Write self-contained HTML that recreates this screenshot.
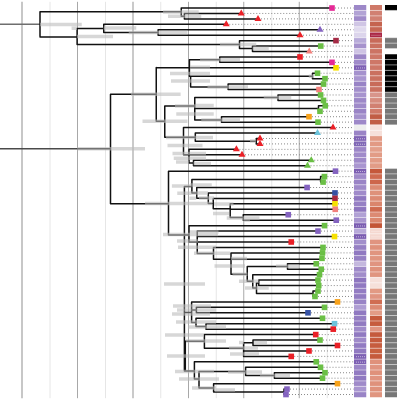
<!DOCTYPE html>
<html><head><meta charset="utf-8"><style>html,body{margin:0;padding:0;background:#fff;width:400px;height:400px;overflow:hidden}svg{display:block}</style></head><body>
<svg width="400" height="400" viewBox="0 0 400 400">
<rect width="400" height="400" fill="#fff"/>
<line x1="22" y1="1.8" x2="22" y2="398.2" stroke="#b4b4b4" stroke-width="1.5"/>
<line x1="50" y1="1.8" x2="50" y2="398.2" stroke="#e6e6e6" stroke-width="1.0"/>
<line x1="77.5" y1="1.8" x2="77.5" y2="398.2" stroke="#a8a8a8" stroke-width="1.0"/>
<line x1="105.5" y1="1.8" x2="105.5" y2="398.2" stroke="#e6e6e6" stroke-width="1.0"/>
<line x1="133" y1="1.8" x2="133" y2="398.2" stroke="#b8b8b8" stroke-width="1.5"/>
<line x1="160.75" y1="1.8" x2="160.75" y2="398.2" stroke="#e6e6e6" stroke-width="1.0"/>
<line x1="188.5" y1="1.8" x2="188.5" y2="398.2" stroke="#a8a8a8" stroke-width="1.0"/>
<line x1="216.25" y1="1.8" x2="216.25" y2="398.2" stroke="#e6e6e6" stroke-width="1.0"/>
<line x1="243.75" y1="1.8" x2="243.75" y2="398.2" stroke="#a8a8a8" stroke-width="1.0"/>
<line x1="271.75" y1="1.8" x2="271.75" y2="398.2" stroke="#e6e6e6" stroke-width="1.0"/>
<line x1="299.25" y1="1.8" x2="299.25" y2="398.2" stroke="#a8a8a8" stroke-width="1.0"/>
<line x1="327.25" y1="1.8" x2="327.25" y2="398.2" stroke="#e6e6e6" stroke-width="1.0"/>
<path d="M226.25 24.32H353.6 M320 29.76H353.6 M300 35.19H353.6 M332 8.02H353.6 M241.25 13.45H353.6 M258 18.89H353.6 M336 40.63H353.6 M320.75 46.06H353.6 M309.25 51.49H353.6 M336 67.8H353.6 M300 56.93H353.6 M332 62.36H353.6 M317.5 73.23H353.6 M325 78.67H353.6 M323.5 84.1H353.6 M319 89.54H353.6 M320.6 94.97H353.6 M323.5 100.4H353.6 M325.25 105.84H353.6 M320 111.27H353.6 M309 116.71H353.6 M318 122.14H353.6 M333 127.58H353.6 M317.5 133.02H353.6 M260 138.47H353.6 M260 143.92H353.6 M242 154.82H353.6 M236.4 149.37H353.6 M311.25 160.26H353.6 M307.5 165.71H353.6 M335.5 171.16H353.6 M324.4 176.61H353.6 M323.1 182.06H353.6 M307.1 187.5H353.6 M335 192.95H353.6 M335 198.4H353.6 M335 203.85H353.6 M335.25 209.3H353.6 M288.25 214.74H353.6 M336.25 220.19H353.6 M324.5 225.64H353.6 M291.25 241.98H353.6 M318 231.09H353.6 M334.5 236.54H353.6 M323 247.43H353.6 M322 258.33H353.6 M322.5 252.88H353.6 M316.25 263.78H353.6 M321.25 269.22H353.6 M319.5 274.67H353.6 M318 280.12H353.6 M318.75 285.57H353.6 M318 291.02H353.6 M315 296.46H353.6 M337.5 301.91H353.6 M324.5 307.36H353.6 M308 312.81H353.6 M322.5 318.26H353.6 M334.5 323.7H353.6 M333.25 329.15H353.6 M315.75 334.6H353.6 M320 340.05H353.6 M337.5 345.5H353.6 M309 350.94H353.6 M291.25 356.39H353.6 M316.25 361.84H353.6 M320.5 367.29H353.6 M325 372.74H353.6 M322.5 378.18H353.6 M337.5 383.63H353.6 M287 389.08H353.6 M286 394.53H353.6" stroke="#8a8a8a" stroke-width="1" stroke-dasharray="1 2" fill="none"/>
<path d="M0 24.25H40" stroke="#6e6e6e" stroke-width="1.6" fill="none"/><path d="M0 148.75H77.5" stroke="#4a4a4a" stroke-width="1.6" fill="none"/>
<path d="M40 11.75V36.6 M77.1 28.5V44.5 M103.75 24.32V32.5 M158.1 29.76V35.19 M181.25 8.02V16.25 M184.4 13.45V18.89 M239.5 40.63V48.6 M252.5 46.06V51.49 M110.5 94.25V203.75 M156.25 67.5V121.25 M189.4 59.8V76.25 M190.6 76.25V86.9 M219.75 56.93V62.36 M312.5 73.23V78.67 M228.1 84.1V89.54 M164.75 106V137.25 M194.75 97.6V120 M278 94.97V100.4 M318.5 105.84V111.27 M221.5 116.71V122.14 M183.5 127.58V154.5 M195.3 133.02V141.2 M256.25 138.47V143.92 M189 149.37V163 M193.5 160.26V165.71 M168.5 171.25V235 M184.4 186.5V371 M185.3 341.2V371 M191.9 179.4V193.1 M320.6 176.61V182.06 M196.75 187.5V198.25 M208.3 192.95V203.5 M213.25 198.4V208.75 M230.2 203.85V217.5 M243.25 214.74V220.19 M189 225.64V241.5 M197.25 231.09V253.5 M213.5 247.43V259.3 M231 252.88V274.3 M247.25 266.5V281.25 M287.5 263.78V269.22 M252.75 274.67V288.1 M256.5 282.9V293.5 M258.75 280.12V285.57 M313 291.02V296.46 M191.6 301.91V322.4 M196.4 307.36V312.81 M196 318.26V326.4 M206 323.7V329.15 M204.4 334.6V348.2 M243.6 342.75V356.39 M253 340.05V345.5 M194.4 361.84V379 M199 371.6V388 M245.6 367.29V375.5 M274.4 372.74V378.18 M213.6 383.63V392 M284 389.08V394.53 M40 11.75H181.25 M40 36.9H77.1 M77.1 28.5H103.75 M103.75 24.32H226.25 M103.75 32.5H158.1 M158.1 29.76H320 M158.1 35.19H300 M77.1 44.5H239.5 M181.25 8.02H332 M181.25 16.25H184.4 M184.4 13.45H241.25 M184.4 18.89H258 M239.5 40.63H336 M239.5 48.6H252.5 M252.5 46.06H320.75 M252.5 51.49H309.25 M77.5 148.75H110.5 M110.5 94.25H156.25 M156.25 67.8H336 M189.4 59.8H219.75 M219.75 56.93H300 M219.75 62.36H332 M189.4 76.25H312.5 M312.5 73.23H317.5 M312.5 78.67H325 M190.6 86.9H228.1 M228.1 84.1H323.5 M228.1 89.54H319 M156.25 121.25H164.75 M164.75 106H194.75 M194.75 97.6H278 M278 94.97H320.6 M278 100.4H323.5 M194.75 108.5H318.5 M318.5 105.84H325.25 M318.5 111.27H320 M194.75 120H221.5 M221.5 116.71H309 M221.5 122.14H318 M164.75 137.25H195.3 M183.5 127.58H333 M195.3 133.02H317.5 M195.3 141.2H256.25 M256.25 138.47H260 M256.25 143.92H260 M183.5 154.82H242 M189 149.37H236.4 M189 163H193.5 M193.5 160.26H311.25 M193.5 165.71H307.5 M110.5 203.75H168.5 M168.5 171.16H335.5 M168.5 235H189 M184.4 186.5H191.9 M191.9 179.4H320.6 M320.6 176.61H324.4 M320.6 182.06H323.1 M191.9 193.1H196.75 M196.75 187.5H307.1 M196.75 198.25H208.3 M208.3 192.95H335 M208.3 203.5H213.25 M213.25 198.4H335 M213.25 208.75H230.2 M230.2 203.85H335 M230.2 209.3H335.25 M230.2 217.5H243.25 M243.25 214.74H288.25 M243.25 220.19H336.25 M189 225.64H324.5 M189 241.98H291.25 M197.25 231.09H318 M197.25 236.54H334.5 M197.25 253.5H213.5 M213.5 247.43H323 M213.5 259.3H322 M231 252.88H322.5 M231 274.3H247.25 M247.25 266.5H287.5 M287.5 263.78H316.25 M287.5 269.22H321.25 M247.25 281.25H252.75 M252.75 274.67H319.5 M252.75 288.1H256.5 M256.5 282.9H258.75 M258.75 280.12H318 M258.75 285.57H318.75 M256.5 293.5H313 M313 291.02H318 M313 296.46H315 M191.6 301.91H337.5 M184.4 312.5H191.6 M191.6 310H196.4 M196.4 307.36H324.5 M196.4 312.81H308 M191.6 322.4H196 M196 318.26H322.5 M196 326.4H206 M206 323.7H334.5 M206 329.15H333.25 M184.4 341.2H204.4 M204.4 334.6H315.75 M204.4 348.2H243.6 M243.6 342.75H253 M253 340.05H320 M253 345.5H337.5 M243.6 350.94H309 M243.6 356.39H291.25 M184.4 371H194.4 M194.4 361.84H316.25 M194.4 379H199 M199 371.6H245.6 M245.6 367.29H320.5 M245.6 375.5H274.4 M274.4 372.74H325 M274.4 378.18H322.5 M199 388H213.6 M213.6 383.63H337.5 M213.6 392H284 M284 389.08H287 M284 394.53H286" stroke="#111" stroke-width="1.5" fill="none" stroke-linecap="round" stroke-linejoin="round"/>
<path d="M40 24.4H81.75 M71.6 28.3H77 M77 36.6H113 M103.75 28H136.25 M128.75 32.5H158.1 M158.1 32.5H187.5 M163 12H198.75 M168 16.25H201.25 M220 44.5H256.25 M252.5 48.5H268.75 M77 148.75H145 M131 94.25H180.6 M190 67.3H210 M170 73.5H210 M171 81H210 M200 59.8H240 M308.75 76.25H313.75 M207.5 86.9H248 M263.75 97.6H291.25 M142.5 121.25H187.5 M175 106H200 M196 105.6H213.75 M176.25 114H213.75 M201.25 120H240 M166 137.5H213 M167.5 145.5H202.5 M250 141H256 M172.5 153.5H206 M173.75 158.25H206 M176 162H189 M193.5 163.5H211 M145 203.5H212.5 M171.9 186H191.25 M177.25 193.2H191.25 M189.4 198.2H196.25 M190 185H211.75 M190 193H208 M199 198H214 M214 204H233.5 M213 213.5H229 M226.75 218H242.5 M243.25 220H250 M240 218H259.5 M190 232H218.5 M163 234.5H218 M177 241H198 M178 247.3H216 M194 253.3H230 M214.5 266H245 M231 258.6H247 M232.5 274.3H247.5 M276 266.2H299 M239 281.2H258.75 M245 288H268.75 M164 284H205 M173 306H211 M177 310H216 M172 314H210 M176 322H216 M188 327H226 M165 335H204 M186 341H226 M167 356H205 M254 342.5H267 M229 348H258 M230 354H259 M175 371.5H214 M228 372H262 M260 375.5H290 M239 342.5H244 M179 379H219 M192 388H216 M215 390H235" stroke="rgb(186,186,186)" stroke-opacity="0.58" stroke-width="3.5" fill="none"/>
<path d="M226.25 20.32L229.75 26.32L222.75 26.32Z" fill="#ea2027"/>
<path d="M320 25.76L323.5 31.76L316.5 31.76Z" fill="#8463c0"/>
<path d="M300 31.19L303.5 37.19L296.5 37.19Z" fill="#ea2027"/>
<rect x="329.2" y="5.22" width="5.6" height="5.6" fill="#e52a96"/>
<path d="M241.25 9.45L244.75 15.45L237.75 15.45Z" fill="#ea2027"/>
<path d="M258 14.89L261.5 20.89L254.5 20.89Z" fill="#ea2027"/>
<rect x="333.2" y="37.83" width="5.6" height="5.6" fill="#a52a45"/>
<rect x="317.95" y="43.26" width="5.6" height="5.6" fill="#6abf45"/>
<path d="M309.25 47.49L312.75 53.49L305.75 53.49Z" fill="#f2807c"/>
<rect x="333.2" y="65" width="5.6" height="5.6" fill="#f7e100"/>
<rect x="297.2" y="54.13" width="5.6" height="5.6" fill="#ea2027"/>
<rect x="329.2" y="59.56" width="5.6" height="5.6" fill="#e52a96"/>
<rect x="314.7" y="70.43" width="5.6" height="5.6" fill="#6abf45"/>
<rect x="322.2" y="75.87" width="5.6" height="5.6" fill="#6abf45"/>
<rect x="320.7" y="81.3" width="5.6" height="5.6" fill="#6abf45"/>
<rect x="316.2" y="86.74" width="5.6" height="5.6" fill="#f2807c"/>
<rect x="317.8" y="92.17" width="5.6" height="5.6" fill="#6abf45"/>
<rect x="320.7" y="97.6" width="5.6" height="5.6" fill="#6abf45"/>
<rect x="322.45" y="103.04" width="5.6" height="5.6" fill="#6abf45"/>
<rect x="317.2" y="108.47" width="5.6" height="5.6" fill="#6abf45"/>
<rect x="306.2" y="113.91" width="5.6" height="5.6" fill="#f7a21b"/>
<rect x="315.2" y="119.34" width="5.6" height="5.6" fill="#6abf45"/>
<path d="M333 123.58L336.5 129.58L329.5 129.58Z" fill="#ea2027"/>
<path d="M317.5 129.02L321 135.02L314 135.02Z" fill="#6cc4dc"/>
<path d="M260 134.47L263.5 140.47L256.5 140.47Z" fill="#ea2027"/>
<path d="M260 139.92L263.5 145.92L256.5 145.92Z" fill="#ea2027"/>
<path d="M242 150.82L245.5 156.82L238.5 156.82Z" fill="#ea2027"/>
<path d="M236.4 145.37L239.9 151.37L232.9 151.37Z" fill="#ea2027"/>
<path d="M311.25 156.26L314.75 162.26L307.75 162.26Z" fill="#6abf45"/>
<path d="M307.5 161.71L311 167.71L304 167.71Z" fill="#6abf45"/>
<rect x="332.7" y="168.36" width="5.6" height="5.6" fill="#8463c0"/>
<rect x="321.6" y="173.81" width="5.6" height="5.6" fill="#6abf45"/>
<rect x="320.3" y="179.26" width="5.6" height="5.6" fill="#6abf45"/>
<rect x="304.3" y="184.7" width="5.6" height="5.6" fill="#8463c0"/>
<rect x="332.2" y="190.15" width="5.6" height="5.6" fill="#3551a4"/>
<rect x="332.2" y="195.6" width="5.6" height="5.6" fill="#a8283e"/>
<rect x="332.2" y="201.05" width="5.6" height="5.6" fill="#f7e100"/>
<rect x="332.45" y="206.5" width="5.6" height="5.6" fill="#f2807c"/>
<rect x="285.45" y="211.94" width="5.6" height="5.6" fill="#8463c0"/>
<rect x="333.45" y="217.39" width="5.6" height="5.6" fill="#8463c0"/>
<rect x="321.7" y="222.84" width="5.6" height="5.6" fill="#6abf45"/>
<rect x="288.45" y="239.18" width="5.6" height="5.6" fill="#ea2027"/>
<rect x="315.2" y="228.29" width="5.6" height="5.6" fill="#8463c0"/>
<rect x="331.7" y="233.74" width="5.6" height="5.6" fill="#f7e100"/>
<rect x="320.2" y="244.63" width="5.6" height="5.6" fill="#6abf45"/>
<rect x="319.2" y="255.53" width="5.6" height="5.6" fill="#6abf45"/>
<rect x="319.7" y="250.08" width="5.6" height="5.6" fill="#6abf45"/>
<rect x="313.45" y="260.98" width="5.6" height="5.6" fill="#6abf45"/>
<rect x="318.45" y="266.42" width="5.6" height="5.6" fill="#6abf45"/>
<rect x="316.7" y="271.87" width="5.6" height="5.6" fill="#6abf45"/>
<rect x="315.2" y="277.32" width="5.6" height="5.6" fill="#6abf45"/>
<rect x="315.95" y="282.77" width="5.6" height="5.6" fill="#6abf45"/>
<rect x="315.2" y="288.22" width="5.6" height="5.6" fill="#6abf45"/>
<rect x="312.2" y="293.66" width="5.6" height="5.6" fill="#6abf45"/>
<rect x="334.7" y="299.11" width="5.6" height="5.6" fill="#f7a21b"/>
<rect x="321.7" y="304.56" width="5.6" height="5.6" fill="#6abf45"/>
<rect x="305.2" y="310.01" width="5.6" height="5.6" fill="#3551a4"/>
<rect x="319.7" y="315.46" width="5.6" height="5.6" fill="#6abf45"/>
<rect x="331.7" y="320.9" width="5.6" height="5.6" fill="#6cc4dc"/>
<rect x="330.45" y="326.35" width="5.6" height="5.6" fill="#ea2027"/>
<rect x="312.95" y="331.8" width="5.6" height="5.6" fill="#ea2027"/>
<rect x="317.2" y="337.25" width="5.6" height="5.6" fill="#6abf45"/>
<rect x="334.7" y="342.7" width="5.6" height="5.6" fill="#ea2027"/>
<rect x="306.2" y="348.14" width="5.6" height="5.6" fill="#ea2027"/>
<rect x="288.45" y="353.59" width="5.6" height="5.6" fill="#ea2027"/>
<rect x="313.45" y="359.04" width="5.6" height="5.6" fill="#6abf45"/>
<rect x="317.7" y="364.49" width="5.6" height="5.6" fill="#6abf45"/>
<rect x="322.2" y="369.94" width="5.6" height="5.6" fill="#6abf45"/>
<rect x="319.7" y="375.38" width="5.6" height="5.6" fill="#6abf45"/>
<rect x="334.7" y="380.83" width="5.6" height="5.6" fill="#f7a21b"/>
<rect x="284.2" y="386.28" width="5.6" height="5.6" fill="#8463c0"/>
<rect x="283.2" y="391.73" width="5.6" height="5.6" fill="#8463c0"/>
<rect x="354" y="5" width="12.25" height="5.45" fill="#9d88c8"/>
<rect x="370" y="5" width="12" height="5.45" fill="#cf7968"/>
<rect x="385" y="5" width="12" height="5.45" fill="#000000"/>
<rect x="354" y="10.45" width="12.25" height="5.45" fill="#b2a3d5"/>
<rect x="370" y="10.45" width="12" height="5.45" fill="#d18072"/>
<rect x="354" y="15.9" width="12.25" height="5.45" fill="#a08bca"/>
<rect x="370" y="15.9" width="12" height="5.45" fill="#d18072"/>
<rect x="354" y="21.34" width="12.25" height="5.45" fill="#d0c6e5"/>
<rect x="370" y="21.34" width="12" height="5.45" fill="#c5644f"/>
<rect x="354" y="26.79" width="12.25" height="5.45" fill="#e0daee"/>
<rect x="370" y="26.79" width="12" height="5.45" fill="#c66653"/>
<rect x="354" y="32.24" width="12.25" height="5.45" fill="#dcd5ec"/>
<rect x="370" y="32.24" width="12" height="5.45" fill="#ab2745"/>
<rect x="354" y="37.69" width="12.25" height="5.45" fill="#b8abd9"/>
<rect x="370" y="37.69" width="12" height="5.45" fill="#c86a59"/>
<rect x="385" y="37.69" width="12" height="5.45" fill="#777777"/>
<rect x="354" y="43.14" width="12.25" height="5.45" fill="#a692cd"/>
<rect x="370" y="43.14" width="12" height="5.45" fill="#ca705f"/>
<rect x="385" y="43.14" width="12" height="5.45" fill="#777777"/>
<rect x="354" y="48.58" width="12.25" height="5.45" fill="#cfc4e4"/>
<rect x="370" y="48.58" width="12" height="5.45" fill="#cc7464"/>
<rect x="354" y="54.03" width="12.25" height="5.45" fill="#9c86c7"/>
<rect x="370" y="54.03" width="12" height="5.45" fill="#ce7767"/>
<rect x="385" y="54.03" width="12" height="5.45" fill="#000000"/>
<rect x="354" y="59.48" width="12.25" height="5.45" fill="#a08bca"/>
<rect x="370" y="59.48" width="12" height="5.45" fill="#ce7767"/>
<rect x="385" y="59.48" width="12" height="5.45" fill="#000000"/>
<rect x="354" y="64.93" width="12.25" height="5.45" fill="#7e60b4"/>
<rect x="370" y="64.93" width="12" height="5.45" fill="#ce7767"/>
<rect x="385" y="64.93" width="12" height="5.45" fill="#000000"/>
<rect x="354" y="70.38" width="12.25" height="5.45" fill="#a592cd"/>
<rect x="370" y="70.38" width="12" height="5.45" fill="#ca705f"/>
<rect x="385" y="70.38" width="12" height="5.45" fill="#000000"/>
<rect x="354" y="75.82" width="12.25" height="5.45" fill="#a996d0"/>
<rect x="370" y="75.82" width="12" height="5.45" fill="#ca705f"/>
<rect x="385" y="75.82" width="12" height="5.45" fill="#000000"/>
<rect x="354" y="81.27" width="12.25" height="5.45" fill="#9883c6"/>
<rect x="370" y="81.27" width="12" height="5.45" fill="#c86b59"/>
<rect x="385" y="81.27" width="12" height="5.45" fill="#000000"/>
<rect x="354" y="86.72" width="12.25" height="5.45" fill="#a28ecb"/>
<rect x="370" y="86.72" width="12" height="5.45" fill="#ca705f"/>
<rect x="385" y="86.72" width="12" height="5.45" fill="#000000"/>
<rect x="354" y="92.17" width="12.25" height="5.45" fill="#a794ce"/>
<rect x="370" y="92.17" width="12" height="5.45" fill="#d8958b"/>
<rect x="385" y="92.17" width="12" height="5.45" fill="#777777"/>
<rect x="354" y="97.61" width="12.25" height="5.45" fill="#9d88c8"/>
<rect x="370" y="97.61" width="12" height="5.45" fill="#d68c7e"/>
<rect x="385" y="97.61" width="12" height="5.45" fill="#777777"/>
<rect x="354" y="103.06" width="12.25" height="5.45" fill="#9f8ac9"/>
<rect x="370" y="103.06" width="12" height="5.45" fill="#d18071"/>
<rect x="385" y="103.06" width="12" height="5.45" fill="#777777"/>
<rect x="354" y="108.51" width="12.25" height="5.45" fill="#9a84c6"/>
<rect x="370" y="108.51" width="12" height="5.45" fill="#cf7968"/>
<rect x="385" y="108.51" width="12" height="5.45" fill="#777777"/>
<rect x="354" y="113.96" width="12.25" height="5.45" fill="#a491cc"/>
<rect x="370" y="113.96" width="12" height="5.45" fill="#c15d45"/>
<rect x="385" y="113.96" width="12" height="5.45" fill="#777777"/>
<rect x="354" y="119.41" width="12.25" height="5.45" fill="#9e89c9"/>
<rect x="370" y="119.41" width="12" height="5.45" fill="#c15d45"/>
<rect x="385" y="119.41" width="12" height="5.45" fill="#777777"/>
<rect x="354" y="124.85" width="12.25" height="5.45" fill="#eeeeee"/>
<rect x="370" y="124.85" width="12" height="5.45" fill="#f6e0da"/>
<rect x="354" y="130.3" width="12.25" height="5.45" fill="#9a84c6"/>
<rect x="370" y="130.3" width="12" height="5.45" fill="#f6e0da"/>
<rect x="354" y="135.75" width="12.25" height="5.45" fill="#7f62b5"/>
<rect x="370" y="135.75" width="12" height="5.45" fill="#e29a84"/>
<rect x="354" y="141.2" width="12.25" height="5.45" fill="#8068b6"/>
<rect x="370" y="141.2" width="12" height="5.45" fill="#e29a84"/>
<rect x="354" y="146.65" width="12.25" height="5.45" fill="#9c86c7"/>
<rect x="370" y="146.65" width="12" height="5.45" fill="#e39f8a"/>
<rect x="354" y="152.09" width="12.25" height="5.45" fill="#a08bca"/>
<rect x="370" y="152.09" width="12" height="5.45" fill="#e29c86"/>
<rect x="354" y="157.54" width="12.25" height="5.45" fill="#9f8ac9"/>
<rect x="370" y="157.54" width="12" height="5.45" fill="#e29c86"/>
<rect x="354" y="162.99" width="12.25" height="5.45" fill="#a996d0"/>
<rect x="370" y="162.99" width="12" height="5.45" fill="#e29c86"/>
<rect x="354" y="168.44" width="12.25" height="5.45" fill="#7d5fb3"/>
<rect x="370" y="168.44" width="12" height="5.45" fill="#c5583a"/>
<rect x="385" y="168.44" width="12" height="5.45" fill="#777777"/>
<rect x="354" y="173.89" width="12.25" height="5.45" fill="#9f8ac9"/>
<rect x="370" y="173.89" width="12" height="5.45" fill="#cf6a4f"/>
<rect x="385" y="173.89" width="12" height="5.45" fill="#777777"/>
<rect x="354" y="179.33" width="12.25" height="5.45" fill="#9a84c6"/>
<rect x="370" y="179.33" width="12" height="5.45" fill="#cd664b"/>
<rect x="385" y="179.33" width="12" height="5.45" fill="#777777"/>
<rect x="354" y="184.78" width="12.25" height="5.45" fill="#9f8ac9"/>
<rect x="370" y="184.78" width="12" height="5.45" fill="#dc8b73"/>
<rect x="385" y="184.78" width="12" height="5.45" fill="#777777"/>
<rect x="354" y="190.23" width="12.25" height="5.45" fill="#a08bca"/>
<rect x="370" y="190.23" width="12" height="5.45" fill="#de917a"/>
<rect x="385" y="190.23" width="12" height="5.45" fill="#777777"/>
<rect x="354" y="195.68" width="12.25" height="5.45" fill="#8f77c0"/>
<rect x="370" y="195.68" width="12" height="5.45" fill="#dc8a73"/>
<rect x="385" y="195.68" width="12" height="5.45" fill="#777777"/>
<rect x="354" y="201.12" width="12.25" height="5.45" fill="#9680c4"/>
<rect x="370" y="201.12" width="12" height="5.45" fill="#da856c"/>
<rect x="385" y="201.12" width="12" height="5.45" fill="#777777"/>
<rect x="354" y="206.57" width="12.25" height="5.45" fill="#8e76bf"/>
<rect x="370" y="206.57" width="12" height="5.45" fill="#cf6a4f"/>
<rect x="385" y="206.57" width="12" height="5.45" fill="#777777"/>
<rect x="354" y="212.02" width="12.25" height="5.45" fill="#b1a1d5"/>
<rect x="370" y="212.02" width="12" height="5.45" fill="#dc8a73"/>
<rect x="385" y="212.02" width="12" height="5.45" fill="#777777"/>
<rect x="354" y="217.47" width="12.25" height="5.45" fill="#a895cf"/>
<rect x="370" y="217.47" width="12" height="5.45" fill="#db876e"/>
<rect x="385" y="217.47" width="12" height="5.45" fill="#777777"/>
<rect x="354" y="222.92" width="12.25" height="5.45" fill="#7a5cb1"/>
<rect x="370" y="222.92" width="12" height="5.45" fill="#c35536"/>
<rect x="385" y="222.92" width="12" height="5.45" fill="#777777"/>
<rect x="354" y="228.36" width="12.25" height="5.45" fill="#b8aad9"/>
<rect x="370" y="228.36" width="12" height="5.45" fill="#f5d8d0"/>
<rect x="385" y="228.36" width="12" height="5.45" fill="#777777"/>
<rect x="354" y="233.81" width="12.25" height="5.45" fill="#7a5cb1"/>
<rect x="370" y="233.81" width="12" height="5.45" fill="#f5d8d0"/>
<rect x="385" y="233.81" width="12" height="5.45" fill="#777777"/>
<rect x="354" y="239.26" width="12.25" height="5.45" fill="#a28fcb"/>
<rect x="370" y="239.26" width="12" height="5.45" fill="#e09480"/>
<rect x="385" y="239.26" width="12" height="5.45" fill="#777777"/>
<rect x="354" y="244.71" width="12.25" height="5.45" fill="#9680c4"/>
<rect x="370" y="244.71" width="12" height="5.45" fill="#df917b"/>
<rect x="385" y="244.71" width="12" height="5.45" fill="#777777"/>
<rect x="354" y="250.16" width="12.25" height="5.45" fill="#9079c1"/>
<rect x="370" y="250.16" width="12" height="5.45" fill="#e0957f"/>
<rect x="385" y="250.16" width="12" height="5.45" fill="#777777"/>
<rect x="354" y="255.6" width="12.25" height="5.45" fill="#9680c4"/>
<rect x="370" y="255.6" width="12" height="5.45" fill="#e0957f"/>
<rect x="385" y="255.6" width="12" height="5.45" fill="#777777"/>
<rect x="354" y="261.05" width="12.25" height="5.45" fill="#c4b8de"/>
<rect x="370" y="261.05" width="12" height="5.45" fill="#e09480"/>
<rect x="385" y="261.05" width="12" height="5.45" fill="#777777"/>
<rect x="354" y="266.5" width="12.25" height="5.45" fill="#9f8ac9"/>
<rect x="370" y="266.5" width="12" height="5.45" fill="#df917b"/>
<rect x="385" y="266.5" width="12" height="5.45" fill="#777777"/>
<rect x="354" y="271.95" width="12.25" height="5.45" fill="#a18dca"/>
<rect x="370" y="271.95" width="12" height="5.45" fill="#e0957f"/>
<rect x="385" y="271.95" width="12" height="5.45" fill="#777777"/>
<rect x="354" y="277.4" width="12.25" height="5.45" fill="#8e76bf"/>
<rect x="370" y="277.4" width="12" height="5.45" fill="#f6e0da"/>
<rect x="385" y="277.4" width="12" height="5.45" fill="#777777"/>
<rect x="354" y="282.84" width="12.25" height="5.45" fill="#9079c1"/>
<rect x="370" y="282.84" width="12" height="5.45" fill="#f6e0da"/>
<rect x="385" y="282.84" width="12" height="5.45" fill="#777777"/>
<rect x="354" y="288.29" width="12.25" height="5.45" fill="#947dc3"/>
<rect x="370" y="288.29" width="12" height="5.45" fill="#e29a84"/>
<rect x="385" y="288.29" width="12" height="5.45" fill="#777777"/>
<rect x="354" y="293.74" width="12.25" height="5.45" fill="#937cc2"/>
<rect x="370" y="293.74" width="12" height="5.45" fill="#e09480"/>
<rect x="385" y="293.74" width="12" height="5.45" fill="#777777"/>
<rect x="354" y="299.19" width="12.25" height="5.45" fill="#9984c6"/>
<rect x="370" y="299.19" width="12" height="5.45" fill="#d06d52"/>
<rect x="385" y="299.19" width="12" height="5.45" fill="#777777"/>
<rect x="354" y="304.64" width="12.25" height="5.45" fill="#ae9dd3"/>
<rect x="370" y="304.64" width="12" height="5.45" fill="#dc8a73"/>
<rect x="385" y="304.64" width="12" height="5.45" fill="#777777"/>
<rect x="354" y="310.08" width="12.25" height="5.45" fill="#9079c1"/>
<rect x="370" y="310.08" width="12" height="5.45" fill="#e29c86"/>
<rect x="385" y="310.08" width="12" height="5.45" fill="#777777"/>
<rect x="354" y="315.53" width="12.25" height="5.45" fill="#947dc3"/>
<rect x="370" y="315.53" width="12" height="5.45" fill="#c55a3c"/>
<rect x="385" y="315.53" width="12" height="5.45" fill="#777777"/>
<rect x="354" y="320.98" width="12.25" height="5.45" fill="#917ac1"/>
<rect x="370" y="320.98" width="12" height="5.45" fill="#c65c3e"/>
<rect x="385" y="320.98" width="12" height="5.45" fill="#777777"/>
<rect x="354" y="326.43" width="12.25" height="5.45" fill="#a08bca"/>
<rect x="370" y="326.43" width="12" height="5.45" fill="#e09480"/>
<rect x="385" y="326.43" width="12" height="5.45" fill="#777777"/>
<rect x="354" y="331.88" width="12.25" height="5.45" fill="#9079c1"/>
<rect x="370" y="331.88" width="12" height="5.45" fill="#c55a3c"/>
<rect x="385" y="331.88" width="12" height="5.45" fill="#777777"/>
<rect x="354" y="337.32" width="12.25" height="5.45" fill="#9f8ac9"/>
<rect x="370" y="337.32" width="12" height="5.45" fill="#c55a3c"/>
<rect x="385" y="337.32" width="12" height="5.45" fill="#777777"/>
<rect x="354" y="342.77" width="12.25" height="5.45" fill="#927bc2"/>
<rect x="370" y="342.77" width="12" height="5.45" fill="#c65c3e"/>
<rect x="385" y="342.77" width="12" height="5.45" fill="#777777"/>
<rect x="354" y="348.22" width="12.25" height="5.45" fill="#917ac1"/>
<rect x="370" y="348.22" width="12" height="5.45" fill="#c8603f"/>
<rect x="385" y="348.22" width="12" height="5.45" fill="#777777"/>
<rect x="354" y="353.67" width="12.25" height="5.45" fill="#7d60b3"/>
<rect x="370" y="353.67" width="12" height="5.45" fill="#c55a3c"/>
<rect x="385" y="353.67" width="12" height="5.45" fill="#777777"/>
<rect x="354" y="359.11" width="12.25" height="5.45" fill="#7d60b3"/>
<rect x="370" y="359.11" width="12" height="5.45" fill="#df917b"/>
<rect x="385" y="359.11" width="12" height="5.45" fill="#777777"/>
<rect x="354" y="364.56" width="12.25" height="5.45" fill="#9b86c7"/>
<rect x="370" y="364.56" width="12" height="5.45" fill="#e09480"/>
<rect x="385" y="364.56" width="12" height="5.45" fill="#777777"/>
<rect x="354" y="370.01" width="12.25" height="5.45" fill="#927bc2"/>
<rect x="370" y="370.01" width="12" height="5.45" fill="#df917b"/>
<rect x="385" y="370.01" width="12" height="5.45" fill="#777777"/>
<rect x="354" y="375.46" width="12.25" height="5.45" fill="#9079c1"/>
<rect x="370" y="375.46" width="12" height="5.45" fill="#e09480"/>
<rect x="385" y="375.46" width="12" height="5.45" fill="#777777"/>
<rect x="354" y="380.91" width="12.25" height="5.45" fill="#9f8ac9"/>
<rect x="370" y="380.91" width="12" height="5.45" fill="#df917b"/>
<rect x="385" y="380.91" width="12" height="5.45" fill="#777777"/>
<rect x="354" y="386.35" width="12.25" height="5.45" fill="#a996d0"/>
<rect x="370" y="386.35" width="12" height="5.45" fill="#df917b"/>
<rect x="385" y="386.35" width="12" height="5.45" fill="#777777"/>
<rect x="354" y="391.8" width="12.25" height="5.45" fill="#9984c6"/>
<rect x="370" y="391.8" width="12" height="5.45" fill="#e0957f"/>
<rect x="385" y="391.8" width="12" height="5.45" fill="#777777"/>
<path d="M356 67.95H365 M356 138.77H365 M356 144.22H365 M356 171.46H365 M356 225.94H365 M356 236.84H365 M356 356.69H365 M356 362.14H365 M371.5 35.26H381 M371.5 231.39H381 M371.5 236.84H381" stroke="#fff" stroke-opacity="0.55" stroke-width="1" stroke-dasharray="1 1" fill="none"/>
<path d="M354 10.45H397 M354 15.9H397 M354 21.34H397 M354 26.79H397 M354 32.24H397 M354 37.69H397 M354 43.14H397 M354 48.58H397 M354 54.03H397 M354 59.48H397 M354 64.93H397 M354 70.38H397 M354 75.82H397 M354 81.27H397 M354 86.72H397 M354 92.17H397 M354 97.61H397 M354 103.06H397 M354 108.51H397 M354 113.96H397 M354 119.41H397 M354 124.85H397 M354 130.3H397 M354 135.75H397 M354 141.2H397 M354 146.65H397 M354 152.09H397 M354 157.54H397 M354 162.99H397 M354 168.44H397 M354 173.89H397 M354 179.33H397 M354 184.78H397 M354 190.23H397 M354 195.68H397 M354 201.12H397 M354 206.57H397 M354 212.02H397 M354 217.47H397 M354 222.92H397 M354 228.36H397 M354 233.81H397 M354 239.26H397 M354 244.71H397 M354 250.16H397 M354 255.6H397 M354 261.05H397 M354 266.5H397 M354 271.95H397 M354 277.4H397 M354 282.84H397 M354 288.29H397 M354 293.74H397 M354 299.19H397 M354 304.64H397 M354 310.08H397 M354 315.53H397 M354 320.98H397 M354 326.43H397 M354 331.88H397 M354 337.32H397 M354 342.77H397 M354 348.22H397 M354 353.67H397 M354 359.11H397 M354 364.56H397 M354 370.01H397 M354 375.46H397 M354 380.91H397 M354 386.35H397 M354 391.8H397" stroke="#fff" stroke-opacity="0.45" stroke-width="1" fill="none"/>
</svg>
</body></html>
